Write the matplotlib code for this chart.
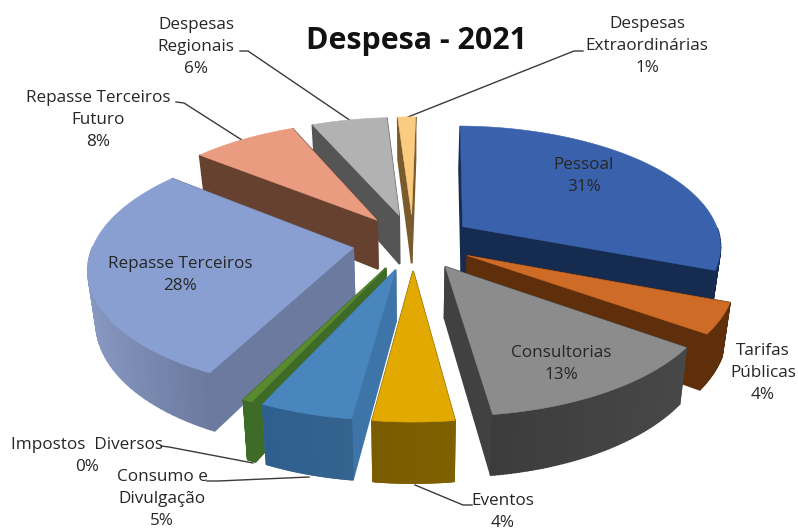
import matplotlib
matplotlib.use("Agg")
import matplotlib.pyplot as plt
import numpy as np

plt.rcParams["font.family"] = ["Open Sans", "DejaVu Sans"]

# shares estimated from the labels and slice widths, clockwise from 12 o'clock
names = ["Pessoal", "Tarifas Públicas", "Consultorias", "Eventos", "Consumo e Divulgação",
         "Impostos Diversos", "Repasse Terceiros", "Repasse Terceiros Futuro",
         "Despesas Regionais", "Despesas Extraordinárias"]
shares = np.array([30.6, 4, 13, 4.2, 4.8, 0.5, 28.4, 7.7, 5.5, 1.3])
top_colors = ["#3A62AC", "#CE6C27", "#8C8C8C", "#E2A900", "#4A86BE",
              "#5A8A30", "#8A9FD1", "#E99C7F", "#B2B2B2", "#FBCB80"]
cut_colors = ["#152B50", "#5F2E0B", "#414141", "#7F6000", "#3E75A8",
              "#3E6B26", "#6C7AA0", "#67412F", "#555555", "#7A5B2E"]
rim_left = ["#152B50", "#5F2E0B", "#3C3C3C", "#7A5C00", "#2F5F8E",
            "#3E6B26", "#8C9DC6", "#67412F", "#555555", "#7A5B2E"]
rim_right = ["#152B50", "#5F2E0B", "#484848", "#7F6000", "#34638F",
             "#3E6B26", "#6C7AA0", "#67412F", "#555555", "#7A5B2E"]

# pie camera settings
cx, cy = 413, 242
rx, ry = 259, 119.5
persp = 0.146
explode = 0.235
depth = 50
bottom_shrink = 0.975
first_angle = np.radians(1)


def project(u, v, low=False):
    s = 1 / (1 + persp * v)
    x = u * rx * s
    y = cy - v * ry * s
    if low:
        return cx + x * bottom_shrink, y + depth * s
    return cx + x, y


def hex_mix(c1, c2, t):
    a = np.array(matplotlib.colors.to_rgb(c1))
    b = np.array(matplotlib.colors.to_rgb(c2))
    return a + (b - a) * t


fig = plt.figure(figsize=(7.98, 5.31), dpi=100)
ax = fig.add_axes([0, 0, 1, 1])
ax.set_xlim(0, 798)
ax.set_ylim(531, 0)
ax.axis("off")

edges = first_angle + np.concatenate([[0], np.cumsum(shares)]) / shares.sum() * 2 * np.pi
mids = (edges[:-1] + edges[1:]) / 2

# leader lines go under the slices
leaders = [
    ([240, 248, 351], [51, 51, 121]),
    ([176, 184, 245], [102, 103, 142]),
    ([583, 574, 408], [51, 51, 117]),
    ([161, 169, 253], [446, 447, 463]),
    ([207, 218, 309], [481, 481, 477]),
    ([472, 463, 415], [505, 505, 485]),
]
for lx, ly in leaders:
    ax.plot(lx, ly, color="#3A3A3A", lw=1, zorder=0)

# back slices first
for i in np.argsort(-np.cos(mids)):
    a0, a1, am = edges[i], edges[i + 1], mids[i]
    du, dv = explode * np.sin(am), explode * np.cos(am)
    ang = np.linspace(a0, a1, 60)
    us = du + np.sin(ang)
    vs = dv + np.cos(ang)

    faces = []
    for j in range(len(ang) - 1):
        # the rim only shows where it faces the viewer
        if np.cos((ang[j] + ang[j + 1]) / 2) > 0:
            continue
        t = (us[j] - us.min()) / max(us.max() - us.min(), 1e-6)
        col = hex_mix(rim_left[i], rim_right[i], t)
        pts = [project(us[j], vs[j]), project(us[j + 1], vs[j + 1]),
               project(us[j + 1], vs[j + 1], True), project(us[j], vs[j], True)]
        faces.append(((vs[j] + vs[j + 1]) / 2, pts, col))
    for k in (0, -1):
        pts = [project(du, dv), project(us[k], vs[k]),
               project(us[k], vs[k], True), project(du, dv, True)]
        faces.append(((dv + vs[k]) / 2, pts, cut_colors[i]))

    for _, pts, col in sorted(faces, key=lambda f: -f[0]):
        ax.fill(*zip(*pts), color=col, lw=1.2, zorder=2)

    top = [project(du, dv)] + [project(u, v) for u, v in zip(us, vs)]
    ax.fill(*zip(*top), color=top_colors[i], lw=0.4, zorder=2)

# labels
ax.text(416, 41, "Despesa - 2021", fontsize=21.9, fontweight="bold", color="#111111",
        ha="center", va="center", zorder=3)

label_texts = ["Pessoal\n31%", "Tarifas\nPúblicas\n4%", "Consultorias\n13%", "Eventos\n4%",
               "Consumo e\nDivulgação\n5%", "Impostos  Diversos\n0%", "Repasse Terceiros\n28%",
               "Repasse Terceiros\nFuturo\n8%", "Despesas\nRegionais\n6%",
               "Despesas\nExtraordinárias\n1%"]
label_x = [584, 763, 561, 503, 162, 87, 180, 98, 196, 647]
label_y = [176, 373, 364, 512, 499, 456, 275, 120, 47, 46]
for s, x, y in zip(label_texts, label_x, label_y):
    ax.text(x, y, s, fontsize=12.3, color="#262626", ha="center", va="center",
            linespacing=1.47, zorder=3)

fig.savefig("out.png", dpi=100)
